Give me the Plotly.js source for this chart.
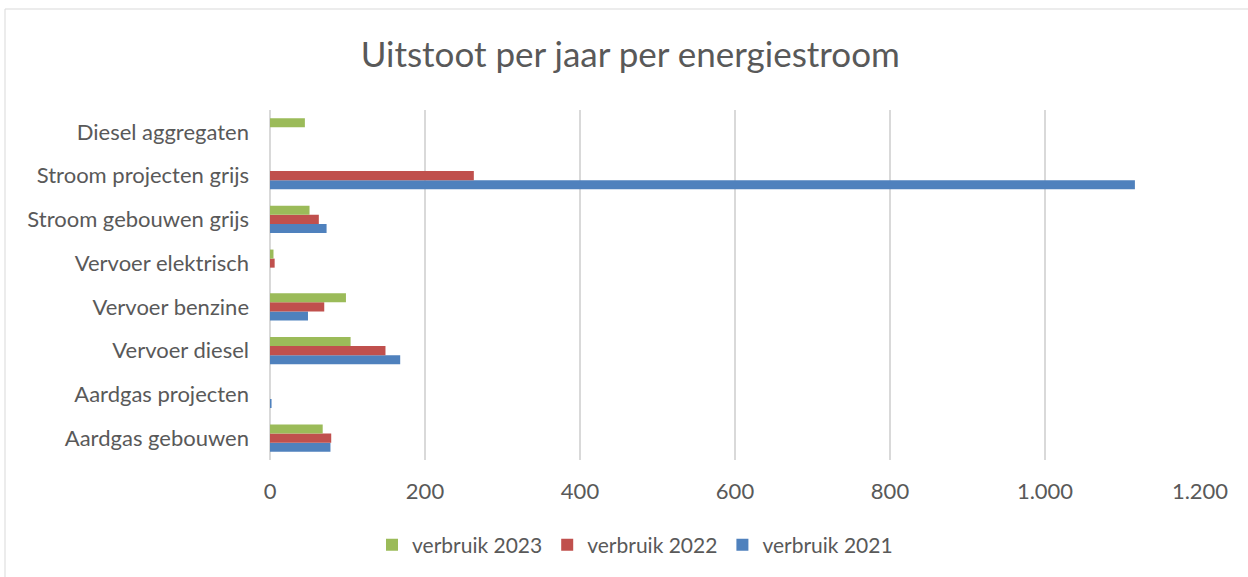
<!DOCTYPE html>
<html>
<head>
<meta charset="utf-8">
<script src="https://cdn.plot.ly/plotly-3.0.1.min.js"></script>
<style>
  body { margin: 0; background: #fff; }
  #chart { width: 1248px; height: 577px; }
</style>
</head>
<body>
<div id="chart"></div>
<script>
// Categories (bottom to top as drawn)
const categories = [
    'Aardgas gebouwen',
    'Aardgas projecten',
    'Vervoer diesel',
    'Vervoer benzine',
    'Vervoer elektrisch',
    'Stroom gebouwen grijs',
    'Stroom projecten grijs',
    'Diesel aggregaten'
];

// Series values
const verbruik2021 = [78, 2, 168, 49, 0, 73, 1116, 0];
const verbruik2022 = [79, 0, 149, 70, 6, 63, 263, 0];
const verbruik2023 = [68, 0, 104, 98, 4.5, 51, 0, 45];

const xTicks = [0, 200, 400, 600, 800, 1000, 1200];

const textColor = '#595959';

function barTrace(values, name, color) {
    return {
        type: 'bar',
        orientation: 'h',
        y: categories,
        x: values,
        name: name,
        marker: {color: color},
        hoverinfo: 'x+name'
    };
}

// Plotly puts the first trace at the bottom of each group
const traces = [
    barTrace(verbruik2021, 'verbruik 2021', '#4F81BD'),
    barTrace(verbruik2022, 'verbruik 2022', '#C0504D'),
    barTrace(verbruik2023, 'verbruik 2023', '#9BBB59')
];

const layout = {
    width: 1248,
    height: 577,
    font: {family: 'Lato, "Open Sans", sans-serif', color: textColor, size: 22},
    separators: ',.',
    title: {
        text: 'Uitstoot per jaar per energiestroom',
        font: {size: 35, color: textColor},
        x: 0.505,
        xanchor: 'center',
        y: 0.905,
        yanchor: 'middle'
    },
    barmode: 'group',
    bargap: 0.38,
    bargroupgap: 0,
    showlegend: true,
    legend: {
        orientation: 'h',
        traceorder: 'reversed',
        x: (635 - 270) / 930,
        xanchor: 'center',
        y: -85 / 350,
        yanchor: 'middle',
        font: {size: 21, color: textColor},
        itemwidth: 30
    },
    xaxis: {
        range: [0, 1200],
        tickvals: xTicks,
        tickformat: ',d',
        showgrid: true,
        gridcolor: '#d9d9d9',
        gridwidth: 1.5,
        zeroline: true,
        zerolinecolor: '#d9d9d9',
        zerolinewidth: 1.5,
        showline: false,
        ticks: '',
        ticklabelstandoff: 16,
        fixedrange: true
    },
    yaxis: {
        type: 'category',
        categoryorder: 'array',
        categoryarray: categories,
        showgrid: false,
        zeroline: false,
        showline: false,
        ticks: '',
        ticklabelstandoff: 20,
        fixedrange: true
    },
    shapes: [{
        type: 'rect',
        xref: 'paper', yref: 'paper',
        x0: -265 / 930, x1: 1.2,
        y0: -0.5, y1: 1 + 101 / 350,
        line: {color: '#d9d9d9', width: 1}
    }],
    margin: {l: 270, r: 48, t: 110, b: 117},
    paper_bgcolor: '#ffffff',
    plot_bgcolor: '#ffffff'
};

Plotly.newPlot('chart', traces, layout, {displayModeBar: false, staticPlot: true});
</script>
</body>
</html>
